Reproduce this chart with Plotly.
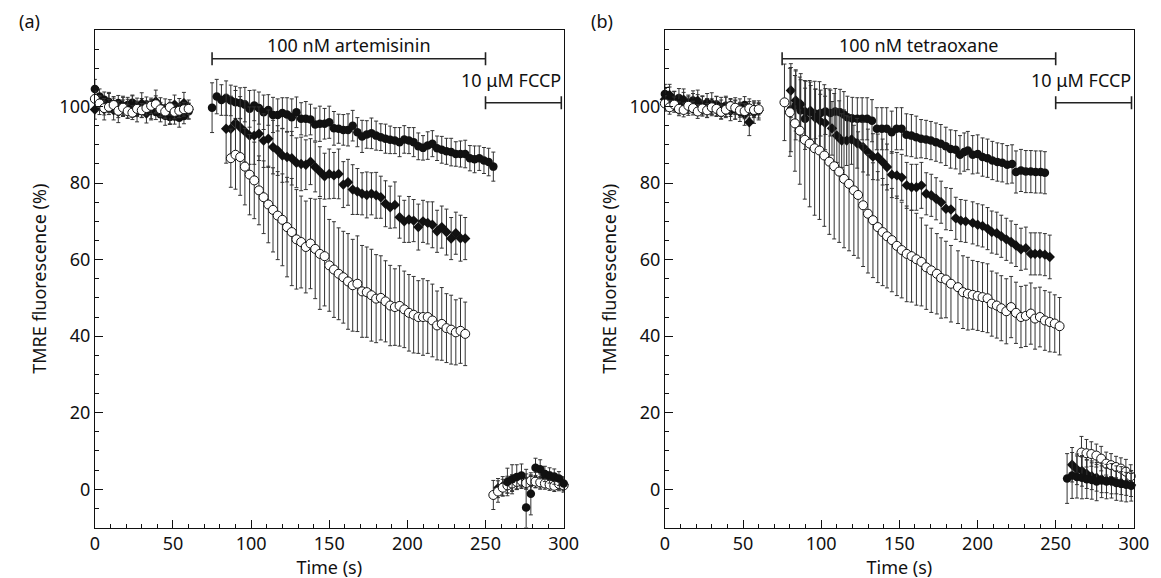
import plotly.graph_objects as go

# ---------------- Panel (a): artemisinin ----------------
t_base = [0, 3, 6, 9, 12, 15, 18, 21, 24, 27, 30, 33, 36, 39, 42, 45, 48, 51, 54, 57, 60]
a_base_fill = [104.6, 102.6, 101.8, 101.2, 100.6, 100.9, 99.9, 100.4, 101.0, 100.2, 99.6, 100.5, 99.3, 98.6, 98.0, 97.6, 97.3, 97.4, 97.1, 97.5, 98.8]
a_base_fill_err = [2.5, 2.0, 2.0, 2.5, 2.0, 2.0, 2.5, 2.0, 2.0, 2.0, 2.5, 2.0, 2.5, 2.0, 2.0, 2.5, 2.0, 2.0, 2.5, 2.0, 2.0]
a_base_open = [102.0, 100.8, 99.6, 99.9, 100.4, 98.9, 99.7, 98.8, 98.4, 99.4, 99.0, 99.6, 100.2, 100.6, 99.3, 98.7, 99.8, 98.6, 98.9, 99.3, 99.4]
a_base_open_err = [2.0, 1.8, 1.8, 2.0, 1.8, 1.8, 2.0, 1.8, 1.8, 2.0, 1.8, 1.8, 2.0, 2.2, 1.8, 1.8, 2.0, 1.8, 1.8, 1.8, 1.5]
a_base_dia = [99.2, 100.4, 99.3, 100.9, 99.0, 98.6, 100.2, 99.4, 100.0, 98.5, 100.8, 98.2, 99.0, 101.3, 99.8, 99.5, 98.3, 100.5, 99.6, 100.9, 99.2]
a_base_dia_err = [2.5, 2.5, 2.8, 2.5, 2.5, 2.8, 2.5, 2.5, 2.8, 2.5, 2.8, 2.5, 2.5, 3.0, 2.5, 2.5, 2.8, 2.5, 2.5, 2.8, 2.5]

a_t_fill = [75, 78, 81, 84, 87, 90, 93, 96, 99, 102, 105, 108, 111, 114, 117, 120, 123, 126, 129, 132,
            135, 138, 141, 144, 147, 150, 153, 156, 159, 162, 165, 168, 171, 174, 177, 180, 183, 186, 189, 192,
            195, 198, 201, 204, 207, 210, 213, 216, 219, 222, 225, 228, 231, 234, 237, 240, 243, 246, 249, 252, 255]
a_fill = [99.7, 102.6, 101.7, 102.2, 101.6, 101.1, 100.9, 100.5, 99.4, 100.3,
          99.6, 98.5, 99.1, 97.8, 97.8, 98.3, 97.9, 97.2, 98.5, 96.8,
          96.8, 96.6, 95.3, 95.5, 95.5, 95.9, 94.3, 94.2, 93.9, 93.9,
          95.0, 93.3, 92.2, 92.7, 93.0, 92.4, 92.0, 91.6, 91.3, 91.1,
          90.7, 91.4, 91.1, 90.7, 89.6, 89.2, 89.8, 90.3, 89.1, 88.7,
          88.3, 88.1, 87.6, 87.6, 87.6, 86.5, 86.2, 86.5, 85.9, 85.5, 84.3]
a_fill_err = [6.5, 4.5, 4.0, 4.5, 4.0, 4.2, 4.0, 4.5, 4.8, 4.0,
              4.2, 4.5, 4.0, 4.6, 4.2, 4.0, 4.4, 4.8, 4.0, 4.2,
              4.5, 4.0, 4.3, 4.6, 4.0, 4.2, 4.4, 3.8, 4.0, 4.2,
              4.0, 3.8, 4.2, 3.6, 4.0, 3.8, 3.5, 3.8, 3.6, 3.4,
              3.8, 3.6, 3.4, 3.8, 3.5, 3.2, 3.6, 3.4, 3.2, 3.5,
              3.4, 3.6, 3.2, 3.4, 3.6, 3.3, 3.5, 3.2, 3.4, 3.6, 3.8]

a_t_dia = [84, 87, 90, 93, 96, 99, 102, 105, 108, 111, 114, 117, 120, 123, 126, 129, 132, 135, 138, 141,
           144, 147, 150, 153, 156, 159, 162, 165, 168, 171, 174, 177, 180, 183, 186, 189, 192, 195, 198, 201,
           204, 207, 210, 213, 216, 219, 222, 225, 228, 231, 234, 237]
a_dia = [94.2, 94.2, 95.7, 94.6, 93.5, 92.4, 92.4, 92.9, 91.1, 91.6,
         89.4, 88.5, 87.2, 86.8, 86.5, 85.3, 85.0, 84.8, 85.6, 84.2,
         83.0, 81.8, 82.4, 82.0, 82.4, 79.6, 80.2, 78.3, 77.8, 77.2,
         76.9, 77.2, 76.8, 76.3, 74.6, 73.7, 74.3, 71.1, 70.0, 70.5,
         70.2, 68.5, 70.0, 69.6, 69.1, 67.4, 68.5, 67.2, 65.5, 66.9,
         65.6, 65.5]
a_dia_err = [9.0, 8.5, 8.5, 8.0, 8.0, 7.5, 7.5, 7.0, 7.0, 7.5,
             7.0, 6.5, 7.0, 6.5, 7.0, 6.5, 7.0, 6.5, 6.0, 6.5,
             6.5, 6.0, 6.5, 6.0, 6.5, 6.0, 6.0, 6.5, 6.0, 5.5,
             6.0, 5.5, 6.0, 5.5, 6.0, 5.5, 6.0, 5.5, 5.5, 6.0,
             5.5, 6.0, 5.5, 5.5, 6.0, 5.5, 5.5, 6.0, 5.5, 5.5,
             6.0, 5.5]

a_t_open = [87, 90, 93, 96, 99, 102, 105, 108, 111, 114, 117, 120, 123, 126, 129, 132, 135, 138, 141, 144,
            147, 150, 153, 156, 159, 162, 165, 168, 171, 174, 177, 180, 183, 186, 189, 192, 195, 198, 201, 204,
            207, 210, 213, 216, 219, 222, 225, 228, 231, 234, 237]
a_open = [86.5, 87.4, 86.8, 84.3, 82.2, 80.7, 78.1, 76.3, 74.4, 73.0,
          71.5, 70.4, 68.5, 67.2, 65.3, 64.6, 63.3, 64.2, 62.8, 61.5,
          60.9, 58.5, 57.4, 56.3, 55.4, 54.3, 53.3, 53.7, 51.7, 51.5,
          50.7, 49.8, 50.0, 49.1, 48.0, 47.6, 47.9, 47.0, 46.1, 45.6,
          45.0, 45.0, 45.0, 44.1, 42.8, 43.2, 42.1, 41.7, 41.0, 41.4, 40.6]
a_open_err = [7.6, 9.0, 10.0, 10.0, 10.5, 10.0, 9.0, 9.5, 10.0, 11.0,
              11.5, 12.0, 13.0, 14.0, 13.0, 12.0, 12.0, 11.8, 13.0, 14.5,
              13.0, 12.0, 12.5, 12.0, 12.0, 12.5, 12.0, 12.5, 12.0, 11.8,
              12.0, 11.5, 11.0, 10.6, 10.5, 10.0, 10.5, 10.0, 10.0, 10.0,
              9.5, 10.0, 9.5, 9.5, 9.0, 9.5, 9.0, 9.0, 8.5, 8.5, 8.3]

a_t_fccp_open = [255, 258, 261, 264, 267, 270, 273, 276, 279, 282, 285, 288, 291, 294, 297, 300]
a_fccp_open = [-1.5, -0.6, 0.4, 1.0, 1.5, 1.9, 2.2, 1.6, 2.2, 2.0, 1.8, 1.5, 1.2, 0.9, 1.4, 1.0]
a_fccp_open_err = [3.8, 2.8, 2.2, 2.0, 1.8, 1.8, 1.6, 1.5, 1.5, 1.6, 1.5, 1.5, 1.5, 1.5, 1.5, 1.5]
a_t_fccp_fill = [264, 267, 270, 273, 276, 279, 282, 285, 288, 291, 294, 297, 300]
a_fccp_fill = [1.9, 2.6, 3.2, 3.6, -4.8, -1.2, 5.6, 5.2, 4.0, 3.6, 3.3, 2.8, 1.5]
a_fccp_fill_up = [3.6, 3.8, 3.2, 3.0, 10.0, 5.5, 2.5, 2.5, 2.0, 2.0, 2.0, 1.8, 1.8]
a_fccp_fill_dn = [3.6, 3.8, 3.2, 3.0, 5.2, 5.5, 2.5, 2.5, 2.0, 2.0, 2.0, 1.8, 1.8]
a_t_fccp_dia = [258, 261, 264, 267, 270, 273, 276, 279, 282, 285, 288, 291, 294, 297, 300]
a_fccp_dia = [0.3, 0.8, 1.2, 1.6, 1.9, 2.2, 2.0, 1.7, 2.4, 2.0, 2.9, 2.5, 2.0, 1.6, 1.2]
a_fccp_dia_err = [2.5, 2.5, 2.2, 2.2, 2.0, 2.0, 2.0, 2.0, 2.0, 2.0, 2.0, 2.0, 2.0, 2.0, 2.0]

# ---------------- Panel (b): tetraoxane ----------------
b_base_fill = [103.3, 102.6, 101.8, 102.2, 101.5, 100.8, 101.6, 100.9, 100.4, 100.9, 99.8, 100.5, 99.9, 100.2, 99.6, 99.2, 99.8, 100.4, 99.5, 99.3, 99.0]
b_base_fill_err = [2.5, 2.5, 2.2, 2.5, 2.2, 2.2, 2.5, 2.2, 2.2, 2.5, 2.2, 2.2, 2.5, 2.2, 2.2, 2.5, 2.2, 2.2, 2.5, 2.2, 2.0]
b_base_open = [100.8, 99.8, 100.5, 99.4, 99.1, 100.2, 99.6, 98.7, 99.5, 99.0, 99.8, 99.4, 98.6, 99.2, 100.1, 99.7, 99.0, 98.8, 99.5, 99.1, 99.3]
b_base_open_err = [2.0, 1.8, 2.0, 1.8, 1.8, 2.0, 1.8, 1.8, 2.0, 1.8, 1.8, 2.0, 1.8, 1.8, 2.0, 1.8, 1.8, 2.0, 1.8, 1.8, 1.5]
b_base_dia = [101.9, 103.0, 101.4, 100.6, 101.8, 100.2, 100.9, 101.5, 100.3, 99.6, 100.8, 100.1, 99.2, 99.9, 98.8, 99.5, 98.6, 97.9, 95.9, 98.4, 99.0]
b_base_dia_err = [2.8, 2.8, 2.5, 2.5, 2.8, 2.5, 2.5, 2.8, 2.5, 2.5, 2.8, 2.5, 2.5, 2.8, 2.5, 2.8, 2.5, 2.8, 3.5, 2.8, 2.5]

b_t_open = [76.5, 80.0, 83.2, 86.3, 89.5, 92.6, 95.8, 98.9, 102.0, 105.2,
            108.3, 111.5, 114.6, 117.8, 120.9, 123.6, 126.8, 129.9, 133.1, 136.2,
            139.3, 142.1, 145.2, 148.4, 151.5, 154.7, 157.8, 160.9, 164.1, 167.2,
            170.4, 174.0, 176.7, 179.8, 183.0, 187.5, 190.7, 193.8, 196.9, 200.1,
            203.2, 206.4, 209.1, 212.3, 215.2, 218.4, 221.5, 224.6, 227.8, 230.9,
            234.1, 236.8, 239.9, 243.1, 246.2, 249.4, 252.5]
b_open = [101.1, 98.5, 95.6, 93.7, 91.3, 90.3, 89.1, 88.5, 87.2, 85.6,
          84.4, 83.0, 81.1, 79.8, 78.1, 76.9, 74.2, 72.0, 70.3, 68.5,
          67.2, 66.1, 65.1, 63.6, 62.5, 61.5, 60.9, 60.1, 59.4, 58.0,
          57.2, 56.3, 55.2, 54.8, 53.7, 52.8, 51.5, 51.1, 50.8, 50.5,
          50.2, 49.9, 48.5, 48.0, 47.3, 46.5, 47.6, 46.1, 45.0, 45.3,
          45.9, 44.6, 45.0, 44.1, 43.7, 43.3, 42.6]
b_open_err = [10.0, 11.5, 12.5, 14.0, 15.5, 16.5, 17.5, 18.0, 18.5, 19.0,
              19.0, 18.5, 18.0, 17.5, 17.0, 16.5, 16.0, 15.5, 15.0, 14.5,
              14.0, 13.5, 13.5, 13.0, 12.5, 12.5, 12.0, 12.0, 11.5, 11.0,
              11.0, 10.5, 10.5, 10.0, 10.0, 9.5, 9.5, 9.5, 9.0, 9.0,
              9.0, 9.0, 8.5, 8.5, 8.5, 8.5, 8.0, 8.0, 8.0, 8.0,
              8.0, 8.0, 7.8, 7.8, 7.8, 7.5, 7.5]

b_t_fill = [80.6, 83.7, 86.8, 89.7, 93.3, 96.4, 99.6, 102.7, 105.9, 109.0,
            112.1, 114.5, 116.8, 119.9, 123.1, 126.2, 129.4, 132.5, 135.6, 138.8,
            141.9, 145.1, 148.2, 151.4, 154.5, 157.7, 160.8, 163.9, 167.1, 170.2,
            173.4, 176.5, 179.7, 182.8, 186.0, 188.8, 191.5, 193.8, 196.9, 200.1,
            203.2, 206.4, 209.5, 212.7, 215.8, 219.0, 222.1, 224.6, 227.8, 230.9,
            234.1, 237.2, 240.4, 243.1]
b_fill = [99.2, 100.3, 99.0, 96.8, 98.5, 98.1, 98.3, 98.7, 98.3, 98.7,
          98.5, 97.9, 97.2, 96.9, 96.8, 96.8, 96.8, 96.3, 94.2, 94.2,
          94.2, 93.3, 94.2, 94.2, 92.6, 92.4, 92.0, 91.6, 91.4, 91.1,
          90.7, 90.3, 89.6, 88.9, 88.7, 87.4, 88.1, 88.5, 87.4, 87.6,
          86.8, 86.5, 85.9, 85.5, 85.3, 84.8, 85.0, 82.9, 83.3, 83.0,
          83.0, 82.9, 82.9, 82.7]
b_fill_err = [11.0, 9.0, 8.0, 8.0, 7.0, 6.5, 6.0, 6.0, 6.0, 6.0,
              6.0, 6.0, 5.5, 5.5, 5.5, 5.5, 5.5, 5.5, 5.5, 5.5,
              5.5, 5.5, 5.5, 5.5, 5.5, 5.5, 5.5, 5.0, 5.0, 5.0,
              5.0, 5.0, 5.0, 5.0, 5.0, 5.0, 5.0, 5.0, 5.0, 5.0,
              5.0, 5.0, 5.0, 5.0, 5.0, 5.0, 5.0, 5.5, 5.5, 5.5,
              5.5, 5.5, 5.5, 5.5]

b_t_dia = [80.6, 83.7, 86.9, 90.0, 93.1, 96.3, 99.4, 102.5, 106.9, 110.0,
           113.1, 116.3, 119.4, 123.0, 126.8, 129.9, 133.1, 136.2, 139.3, 142.1,
           145.2, 148.4, 151.5, 154.7, 157.8, 160.9, 164.1, 167.2, 170.4, 173.5,
           176.7, 179.8, 183.0, 186.1, 189.3, 192.4, 196.9, 200.1, 203.2, 206.4,
           209.1, 212.3, 215.2, 218.4, 221.5, 224.6, 227.8, 230.9, 234.1, 236.8,
           239.9, 243.1, 246.2]
b_dia = [104.2, 101.6, 100.6, 98.6, 98.9, 97.0, 96.2, 95.7, 94.3, 92.4,
         91.1, 91.1, 91.4, 90.4, 89.4, 88.1, 86.9, 86.8, 85.5, 84.2,
         82.2, 82.0, 81.5, 79.4, 78.9, 78.9, 79.4, 77.2, 76.8, 75.9,
         75.0, 73.3, 73.1, 70.8, 70.2, 70.0, 69.6, 69.1, 68.8, 68.1,
         67.2, 66.9, 66.1, 65.3, 64.6, 63.7, 62.7, 63.0, 61.5, 61.5,
         61.5, 61.3, 60.7]
b_dia_err = [7.0, 8.0, 8.0, 8.0, 7.5, 7.5, 7.0, 7.0, 7.0, 7.0,
             7.0, 6.5, 6.5, 6.5, 6.5, 6.0, 6.0, 6.0, 6.0, 6.0,
             6.0, 6.0, 6.0, 6.0, 6.0, 6.0, 6.0, 5.5, 5.5, 5.5,
             5.5, 5.5, 5.5, 5.5, 5.5, 5.5, 5.5, 5.5, 5.5, 5.5,
             5.5, 5.5, 5.5, 5.5, 5.5, 5.5, 5.5, 5.5, 5.5, 5.5,
             5.5, 5.5, 5.7]

b_t_fccp_open = [266.5, 269.7, 272.8, 276.0, 279.1, 282.3, 285.4, 288.6, 291.7, 294.9, 298.0]
b_fccp_open = [9.6, 9.4, 9.2, 8.8, 8.0, 6.7, 6.3, 5.8, 5.4, 4.6, 3.4]
b_fccp_open_err = [4.2, 3.6, 3.2, 3.0, 3.2, 3.0, 3.0, 2.8, 2.8, 3.2, 3.0]
b_t_fccp_fill = [257.3, 260.5, 263.6, 266.8, 269.9, 273.1, 276.2, 279.4, 282.5, 285.7, 288.8, 292.0, 295.1, 298.3]
b_fccp_fill = [2.8, 3.6, 3.2, 3.0, 2.6, 2.4, 2.0, 2.3, 2.0, 2.2, 1.6, 1.4, 1.2, 0.9]
b_fccp_fill_err = [6.5, 6.0, 5.5, 5.5, 5.0, 5.0, 5.0, 4.5, 4.5, 4.5, 4.5, 4.5, 4.5, 4.0]
b_t_fccp_dia = [260.5, 263.6, 266.8, 269.9, 273.1, 276.2, 279.4, 282.5, 285.7, 288.8, 291.9, 295.1, 298.2]
b_fccp_dia = [6.4, 5.2, 4.8, 4.0, 3.4, 3.0, 2.6, 2.3, 2.0, 1.8, 1.6, 1.4, 1.1]
b_fccp_dia_err = [4.5, 4.0, 4.0, 3.8, 3.5, 3.5, 3.5, 3.2, 3.2, 3.0, 3.0, 3.0, 3.0]

x_ticks = [0, 50, 100, 150, 200, 250, 300]
y_ticks = [0, 20, 40, 60, 80, 100]
treat_labels = ["100 nM artemisinin", "100 nM tetraoxane"]
fccp_label = "10 μM FCCP"
panel_labels = ["(a)", "(b)"]

FONT = "Noto Sans, DejaVu Sans, sans-serif"
FS = 18
INK = "#111111"
ERRC = "#333333"

fig = go.Figure()


def add(xa, ya, t, v, e, kind, em=None):
    if kind == "F":
        marker = dict(symbol="circle", size=8.5, color=INK, line=dict(width=0))
    elif kind == "D":
        marker = dict(symbol="diamond", size=8, color=INK, line=dict(width=0))
    else:
        marker = dict(symbol="circle", size=9, color="white", line=dict(color=INK, width=1))
    err = dict(type="data", array=e, color=ERRC, thickness=1, width=2, visible=True)
    if em is not None:
        err["symmetric"] = False
        err["arrayminus"] = em
    fig.add_trace(go.Scatter(x=t, y=v, mode="markers", marker=marker, error_y=err,
                             xaxis=xa, yaxis=ya, showlegend=False, cliponaxis=False,
                             hoverinfo="x+y"))


# panel a
add("x", "y", t_base, a_base_fill, a_base_fill_err, "F")
add("x", "y", t_base, a_base_dia, a_base_dia_err, "D")
add("x", "y", t_base, a_base_open, a_base_open_err, "O")
add("x", "y", a_t_fill, a_fill, a_fill_err, "F")
add("x", "y", a_t_dia, a_dia, a_dia_err, "D")
add("x", "y", a_t_open, a_open, a_open_err, "O")
add("x", "y", a_t_fccp_dia, a_fccp_dia, a_fccp_dia_err, "D")
add("x", "y", a_t_fccp_open, a_fccp_open, a_fccp_open_err, "O")
add("x", "y", a_t_fccp_fill, a_fccp_fill, a_fccp_fill_up, "F", a_fccp_fill_dn)

# panel b
add("x2", "y2", t_base, b_base_fill, b_base_fill_err, "F")
add("x2", "y2", t_base, b_base_dia, b_base_dia_err, "D")
add("x2", "y2", t_base, b_base_open, b_base_open_err, "O")
add("x2", "y2", b_t_fill, b_fill, b_fill_err, "F")
add("x2", "y2", b_t_dia, b_dia, b_dia_err, "D")
add("x2", "y2", b_t_open, b_open, b_open_err, "O")
add("x2", "y2", b_t_fccp_open, b_fccp_open, b_fccp_open_err, "O")
add("x2", "y2", b_t_fccp_dia, b_fccp_dia, b_fccp_dia_err, "D")
add("x2", "y2", b_t_fccp_fill, b_fccp_fill, b_fccp_fill_err, "F")

W, H = 1161, 578
xdom_a = [83.3 / W, 560.3 / W]
xdom_b = [663.3 / W, 1140.5 / W]
ydom = [1 - 519.5 / H, 1 - 22 / H]


def xax(domain, anchor):
    return dict(domain=domain, anchor=anchor, range=[0, 300], tickmode="array", tickvals=x_ticks,
                ticks="inside", ticklen=8, tickwidth=1, tickcolor=INK,
                minor=dict(tickmode="linear", tick0=0, dtick=10, ticks="inside", ticklen=4,
                           tickwidth=1, tickcolor=INK),
                showline=True, linecolor=INK, linewidth=1, mirror=True, showgrid=False, zeroline=False,
                tickfont=dict(family=FONT, size=FS, color=INK),
                title=dict(text="Time (s)", font=dict(family=FONT, size=FS, color=INK), standoff=2))


def yax(anchor):
    return dict(domain=ydom, anchor=anchor, range=[-10, 120], tickmode="array", tickvals=y_ticks,
                ticks="inside", ticklen=8, tickwidth=1, tickcolor=INK,
                minor=dict(tickmode="linear", tick0=0, dtick=5, ticks="inside", ticklen=4,
                           tickwidth=1, tickcolor=INK),
                showline=True, linecolor=INK, linewidth=1, mirror=True, showgrid=False, zeroline=False,
                tickfont=dict(family=FONT, size=FS, color=INK),
                title=dict(text="TMRE fluorescence (%)", font=dict(family=FONT, size=FS, color=INK), standoff=8))


shapes = []
annotations = []
for i, (xr, yr) in enumerate([("x", "y"), ("x2", "y2")]):
    segs = [(75, 250, 112.5), (250, 298.5, 101.0)]
    for (x0, x1, yy) in segs:
        shapes.append(dict(type="line", xref=xr, yref=yr, x0=x0, x1=x1, y0=yy, y1=yy,
                           line=dict(color="#222222", width=1.6)))
        for xx in (x0, x1):
            shapes.append(dict(type="line", xref=xr, yref=yr, x0=xx, x1=xx, y0=yy - 1.7, y1=yy + 1.7,
                               line=dict(color="#222222", width=1.6)))
    annotations.append(dict(xref=xr, yref=yr, x=162.5, y=116.2, text=treat_labels[i], showarrow=False,
                            xanchor="center", yanchor="middle",
                            font=dict(family=FONT, size=FS, color=INK)))
    annotations.append(dict(xref=xr, yref=yr, x=299.5, y=107.0, text=fccp_label, showarrow=False,
                            xanchor="right", yanchor="middle",
                            font=dict(family=FONT, size=FS, color=INK)))

annotations.append(dict(xref="paper", yref="paper", x=4 / W, y=1 - 13 / H, text=panel_labels[0],
                        showarrow=False, xanchor="left", yanchor="middle",
                        font=dict(family=FONT, size=FS, color=INK)))
annotations.append(dict(xref="paper", yref="paper", x=586 / W, y=1 - 13 / H, text=panel_labels[1],
                        showarrow=False, xanchor="left", yanchor="middle",
                        font=dict(family=FONT, size=FS, color=INK)))

fig.update_layout(
    width=W, height=H, margin=dict(l=0, r=0, t=0, b=0),
    paper_bgcolor="white", plot_bgcolor="white",
    xaxis=xax(xdom_a, "y"), yaxis=yax("x"),
    xaxis2=xax(xdom_b, "y2"), yaxis2=yax("x2"),
    shapes=shapes, annotations=annotations,
    font=dict(family=FONT, size=FS, color=INK),
)

fig.write_html("out.html")
